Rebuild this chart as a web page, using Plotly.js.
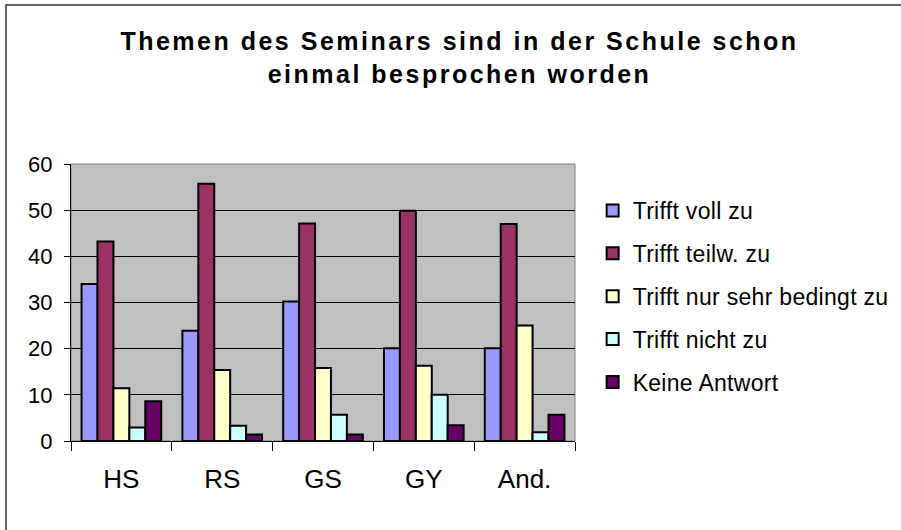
<!DOCTYPE html>
<html>
<head>
<meta charset="utf-8">
<script src="https://cdn.plot.ly/plotly-3.0.1.min.js"></script>
<style>
html, body { margin: 0; padding: 0; background: #fff; }
#chart { width: 901px; height: 530px; }
.gtitle { letter-spacing: 2.5px; }
.legendtext { letter-spacing: 0.3px; }
</style>
</head>
<body>
<div id="chart"></div>
<script>
const categories = ["HS", "RS", "GS", "GY", "And."];
const seriesNames = ["Trifft voll zu", "Trifft teilw. zu", "Trifft nur sehr bedingt zu", "Trifft nicht zu", "Keine Antwort"];
const trifftVoll = [34.0, 23.9, 30.2, 20.1, 20.1];
const trifftTeilw = [43.2, 55.7, 47.1, 49.9, 47.0];
const trifftNurSehrBedingt = [11.4, 15.4, 15.8, 16.3, 25.0];
const trifftNicht = [2.9, 3.3, 5.7, 10.0, 1.9];
const keineAntwort = [8.6, 1.4, 1.4, 3.4, 5.7];
const seriesColors = ["#9999FF", "#993366", "#FFFFCC", "#CCFFFF", "#660066"];
const yTicks = [0, 10, 20, 30, 40, 50, 60];

const seriesValues = [trifftVoll, trifftTeilw, trifftNurSehrBedingt, trifftNicht, keineAntwort];
const font = "Liberation Sans, Arial, sans-serif";

const traces = seriesValues.map((vals, i) => ({
  type: "bar",
  name: seriesNames[i],
  x: categories,
  y: vals,
  legendgroup: "g" + i,
  marker: { color: seriesColors[i], line: { color: "#000", width: 2 } },
  hoverinfo: "x+y+name"
}));

const layout = {
  width: 901,
  height: 530,
  margin: { l: 71, r: 326, t: 164, b: 89, pad: 0, autoexpand: false },
  paper_bgcolor: "#ffffff",
  plot_bgcolor: "#C0C0C0",
  barmode: "group",
  bargap: 0.21,
  bargroupgap: 0,
  showlegend: true,
  font: { family: font, color: "#000", size: 20 },
  title: {
    text: "Themen des Seminars sind in der Schule schon<br>einmal besprochen worden",
    font: { family: font, size: 25, color: "#000", weight: "bold" },
    xref: "container", x: 0.51, xanchor: "center",
    yref: "container", y: 1 - 50 / 530, yanchor: "top"
  },
  legend: {
    x: 1.035, xanchor: "left",
    y: 0.91, yanchor: "top",
    font: { family: font, size: 23, color: "#000" },
    bgcolor: "rgba(0,0,0,0)",
    tracegroupgap: 10,
    itemwidth: 30
  },
  xaxis: {
    type: "category",
    showline: true, linecolor: "#000", linewidth: 1,
    ticks: "outside", ticklen: 9, tickcolor: "#000", tickwidth: 1,
    tickson: "boundaries",
    ticklabelstandoff: 15,
    tickfont: { family: font, size: 26, color: "#000" },
    showgrid: false,
    zeroline: false,
    fixedrange: true
  },
  yaxis: {
    range: [0, 60],
    tickvals: yTicks,
    showline: true, linecolor: "#000", linewidth: 1,
    ticks: "outside", ticklen: 6, tickcolor: "#000", tickwidth: 1,
    ticklabelstandoff: 7,
    tickfont: { family: font, size: 22, color: "#000" },
    showgrid: true, gridcolor: "#000", gridwidth: 1,
    zeroline: false,
    fixedrange: true
  },
  shapes: [
    {
      type: "rect", xref: "paper", yref: "paper",
      x0: 0, x1: 1, y0: 0, y1: 1,
      line: { color: "#808080", width: 1 }, fillcolor: "rgba(0,0,0,0)", layer: "below"
    },
    {
      type: "rect", xref: "paper", yref: "paper",
      x0: (6 - 71) / 504, x1: (915 - 71) / 504,
      y0: (441 - 545) / 277, y1: (441 - 5) / 277,
      line: { color: "#333", width: 1.5 }, fillcolor: "rgba(0,0,0,0)"
    }
  ]
};

Plotly.newPlot("chart", traces, layout, { displayModeBar: false, staticPlot: true });
</script>
</body>
</html>
